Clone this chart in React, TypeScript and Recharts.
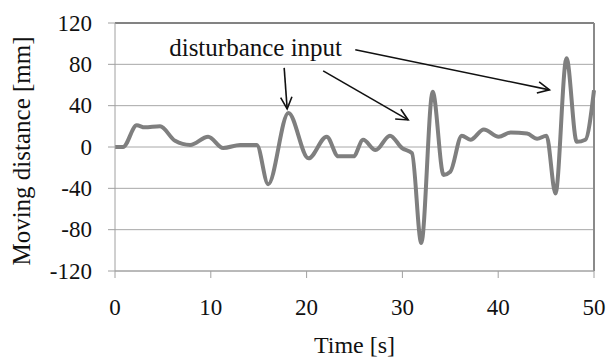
import React from 'react';
import {
  LineChart,
  Line,
  XAxis,
  YAxis,
  CartesianGrid,
  ReferenceLine,
  ReferenceDot,
} from 'recharts';

// Time [s]
const times = [
  0, 0.84, 2.27, 3.1, 4.7, 6.27, 7.84, 9.72, 11.29, 13.06, 14.8, 15.99, 18.1, 20.2,
  22.1, 23.3, 24.9, 25.9, 27.2, 28.7, 29.96, 31.0, 31.97, 33.16, 34.3, 35.0, 36.2,
  37.1, 38.5, 40.05, 41.3, 43.0, 44.06, 45.04, 45.98, 47.13, 48.2, 49.1, 50,
];
// Moving distance [mm]
const distances = [
  0, 0, 21, 19, 20, 6, 2, 10, -1, 2, 2, -36, 33, -11,
  10, -9, -9, 7, -3, 11, -1, -6, -93, 53.5, -27, -24, 11,
  7, 17, 10, 14, 13, 8, 11, -45, 86, 5, 7, 55,
];

const xTicks = [0, 10, 20, 30, 40, 50];
const yTicks = [-120, -80, -40, 0, 40, 80, 120];

const annotationText = 'disturbance input';
const annotationAt = { x: 14.68, y: 88 };
// arrows: [from, tip]
const arrows = [
  [{ x: 17.66, y: 76.6 }, { x: 17.97, y: 36.9 }],
  [{ x: 21.73, y: 73.7 }, { x: 30.6, y: 26.2 }],
  [{ x: 25.08, y: 94.1 }, { x: 45.35, y: 55.3 }],
];

const data = times.map((t, i) => ({ t, d: distances[i] }));

const FONT = '"Liberation Serif", "Times New Roman", serif';

const Arrow = (props: any) => {
  const { x1, y1, x2, y2 } = props;
  const ang = Math.atan2(y2 - y1, x2 - x1);
  const len = 13;
  const spread = 0.45;
  const ax = x2 - len * Math.cos(ang - spread);
  const ay = y2 - len * Math.sin(ang - spread);
  const bx = x2 - len * Math.cos(ang + spread);
  const by = y2 - len * Math.sin(ang + spread);
  return (
    <g stroke="#111" strokeWidth={1.6} fill="none">
      <line x1={x1} y1={y1} x2={x2} y2={y2} />
      <polyline points={`${ax},${ay} ${x2},${y2} ${bx},${by}`} />
    </g>
  );
};

const XTick = (props: any) => {
  const { x, payload } = props;
  return (
    <text x={x} y={315} textAnchor="middle" fill="#111" fontSize={23} fontFamily={FONT}>
      {payload.value}
    </text>
  );
};

const YTick = (props: any) => {
  const { y, payload } = props;
  return (
    <text x={92} y={y} dy={7.5} textAnchor="end" fill="#111" fontSize={23} fontFamily={FONT}>
      {payload.value}
    </text>
  );
};

export default function App() {
  return (
    <div style={{ position: 'absolute', left: 0, top: 0, width: 608, height: 361, background: '#fff' }}>
      <LineChart
        width={608}
        height={361}
        data={data}
        margin={{ top: 23, right: 14, left: 0, bottom: 0 }}
      >
        <CartesianGrid vertical={false} stroke="#a8a8a8" strokeWidth={1} />
        <XAxis
          type="number"
          dataKey="t"
          domain={[0, 50]}
          ticks={xTicks}
          height={90}
          stroke="#a0a0a0"
          tickSize={7}
          tick={<XTick />}
          label={{
            content: (p: any) => {
              const vb = p.viewBox;
              return (
                <text x={vb.x + vb.width / 2} y={353} textAnchor="middle" fill="#111" fontSize={24} fontFamily={FONT}>
                  Time [s]
                </text>
              );
            },
          }}
        />
        <YAxis
          type="number"
          domain={[-120, 120]}
          ticks={yTicks}
          width={115}
          stroke="#a0a0a0"
          tickSize={7}
          interval={0}
          tick={<YTick />}
          label={{
            content: (p: any) => {
              const vb = p.viewBox;
              const cx = 30;
              const cy = vb.y + vb.height / 2 + 4;
              return (
                <text
                  x={cx}
                  y={cy}
                  textAnchor="middle"
                  fill="#111"
                  fontSize={25}
                  fontFamily={FONT}
                  transform={`rotate(-90, ${cx}, ${cy})`}
                >
                  Moving distance [mm]
                </text>
              );
            },
          }}
        />
        <ReferenceLine y={120} stroke="#333" strokeWidth={1.2} />
        <ReferenceLine x={50} stroke="#8a8a8a" strokeWidth={2} />
        <Line
          type="monotone"
          dataKey="d"
          stroke="#7f7f7f"
          strokeWidth={4}
          dot={false}
          isAnimationActive={false}
        />
        {arrows.map((seg, i) => (
          <ReferenceLine key={i} segment={seg} shape={Arrow} />
        ))}
        <ReferenceDot
          x={annotationAt.x}
          y={annotationAt.y}
          r={0}
          shape={(p: any) => (
            <text x={p.cx} y={p.cy} textAnchor="middle" fill="#111" fontSize={25} fontFamily={FONT}>
              {annotationText}
            </text>
          )}
        />
      </LineChart>
    </div>
  );
}
